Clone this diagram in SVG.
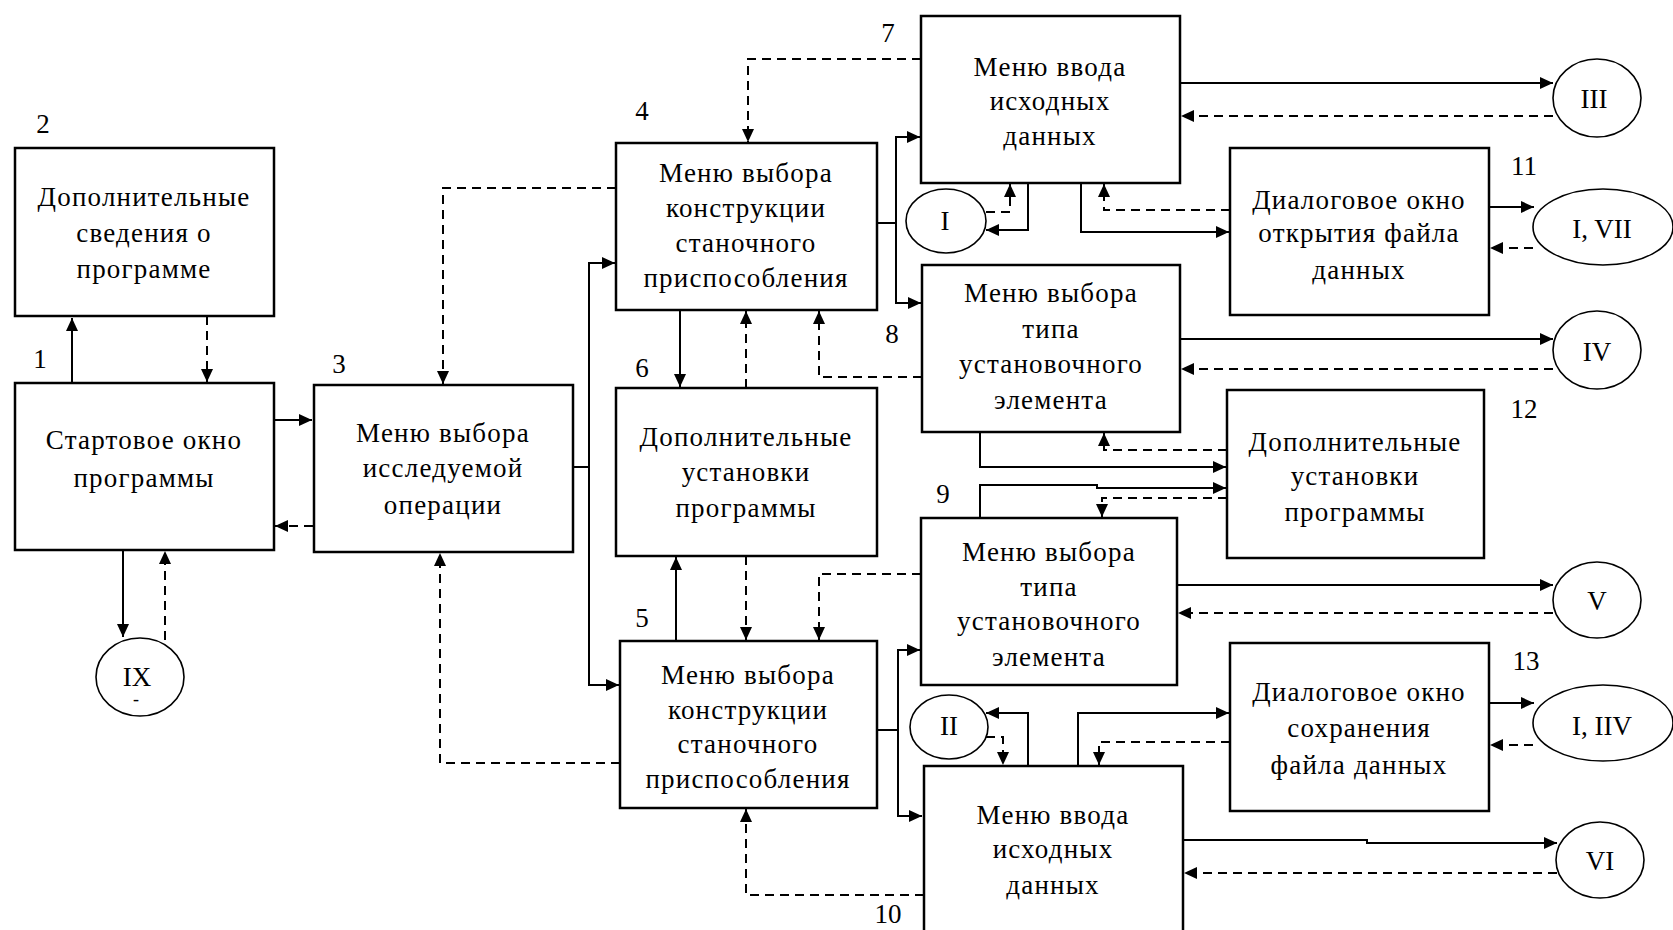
<svg xmlns="http://www.w3.org/2000/svg" width="1673" height="930" viewBox="0 0 1673 930">
<style>
.box{fill:#fff;stroke:#000;stroke-width:2.5}
.c{fill:#fff;stroke:#000;stroke-width:1.6}
.t{font-family:"Liberation Serif","DejaVu Serif",serif;font-size:27px;letter-spacing:1.2px;text-anchor:middle;fill:#000}
.n{font-family:"Liberation Serif","DejaVu Serif",serif;font-size:27px;text-anchor:middle;fill:#000}
.s{fill:none;stroke:#000;stroke-width:2;marker-end:url(#a)}
.d{fill:none;stroke:#000;stroke-width:2;stroke-dasharray:9 6;marker-end:url(#a)}
</style>
<defs>
<marker id="a" markerUnits="userSpaceOnUse" markerWidth="14" markerHeight="12" refX="13" refY="6" orient="auto">
<path d="M0 0 L13 6 L0 12 Z" fill="#000"/>
</marker>
</defs>
<rect width="1673" height="930" fill="#fff"/>

<g id="connectors">
<path class="s" d="M72 383 V318"/>
<path class="s" d="M274 420 H312"/>
<path class="s" d="M123 550 V637"/>
<path class="s" d="M573 467 H589 V263 H615"/>
<path class="s" d="M589 467 V685 H619"/>
<path class="s" d="M680 310 V387"/>
<path class="s" d="M877 223 H896 V137 H920"/>
<path class="s" d="M896 223 V303 H921"/>
<path class="s" d="M1028 183 V230 H986"/>
<path class="s" d="M1081 183 V232 H1229"/>
<path class="s" d="M1180 83 H1553"/>
<path class="s" d="M1489 207 H1534"/>
<path class="s" d="M1180 339 H1553"/>
<path class="s" d="M980 432 V467 H1226"/>
<path class="s" d="M980 518 V485 H1097 V488 H1226"/>
<path class="s" d="M676 641 V557"/>
<path class="s" d="M877 730 H898 V650 H920"/>
<path class="s" d="M898 730 V816 H922"/>
<path class="s" d="M1177 585 H1553"/>
<path class="s" d="M1028 766 V713 H986"/>
<path class="s" d="M1078 766 V713 H1229"/>
<path class="s" d="M1489 703 H1534"/>
<path class="s" d="M1183 840 H1367 V843 H1557"/>

<path class="d" d="M207 316 V382"/>
<path class="d" d="M313 526 H275"/>
<path class="d" d="M165 640 V551"/>
<path class="d" d="M616 188 H443 V384"/>
<path class="d" d="M620 763 H440 V553"/>
<path class="d" d="M921 59 H748 V142"/>
<path class="d" d="M986 212 H1010 V184"/>
<path class="d" d="M1230 210 H1104 V184"/>
<path class="d" d="M1553 116 H1181"/>
<path class="d" d="M1533 248 H1490"/>
<path class="d" d="M746 388 V311"/>
<path class="d" d="M922 377 H819 V311"/>
<path class="d" d="M1553 369 H1181"/>
<path class="d" d="M1227 450 H1104 V433"/>
<path class="d" d="M1227 498 H1102 V517"/>
<path class="d" d="M746 556 V640"/>
<path class="d" d="M921 574 H819 V640"/>
<path class="d" d="M1553 613 H1178"/>
<path class="d" d="M986 737 H1003 V765"/>
<path class="d" d="M1230 742 H1099 V765"/>
<path class="d" d="M1533 745 H1490"/>
<path class="d" d="M1557 873 H1184"/>
<path class="d" d="M924 895 H746 V809"/>
</g>

<g id="n1">
<rect class="box" x="15" y="383" width="259" height="167"/>
<text class="t" x="144" y="449">Стартовое окно</text>
<text class="t" x="144" y="487">программы</text>
<text class="n" x="40" y="368">1</text>
</g>
<g id="n2">
<rect class="box" x="15" y="148" width="259" height="168"/>
<text class="t" x="144" y="206">Дополнительные</text>
<text class="t" x="144" y="242">сведения о</text>
<text class="t" x="144" y="278">программе</text>
<text class="n" x="43" y="133">2</text>
</g>
<g id="n3">
<rect class="box" x="314" y="385" width="259" height="167"/>
<text class="t" x="443" y="442">Меню выбора</text>
<text class="t" x="443" y="477">исследуемой</text>
<text class="t" x="443" y="514">операции</text>
<text class="n" x="339" y="373">3</text>
</g>
<g id="n4">
<rect class="box" x="616" y="143" width="261" height="167"/>
<text class="t" x="746" y="182">Меню выбора</text>
<text class="t" x="746" y="217">конструкции</text>
<text class="t" x="746" y="252">станочного</text>
<text class="t" x="746" y="287">приспособления</text>
<text class="n" x="642" y="120">4</text>
</g>
<g id="n6">
<rect class="box" x="616" y="388" width="261" height="168"/>
<text class="t" x="746" y="446">Дополнительные</text>
<text class="t" x="746" y="481">установки</text>
<text class="t" x="746" y="517">программы</text>
<text class="n" x="642" y="377">6</text>
</g>
<g id="n5">
<rect class="box" x="620" y="641" width="257" height="167"/>
<text class="t" x="748" y="684">Меню выбора</text>
<text class="t" x="748" y="719">конструкции</text>
<text class="t" x="748" y="753">станочного</text>
<text class="t" x="748" y="788">приспособления</text>
<text class="n" x="642" y="627">5</text>
</g>
<g id="n7">
<rect class="box" x="921" y="16" width="259" height="167"/>
<text class="t" x="1050" y="76">Меню ввода</text>
<text class="t" x="1050" y="110">исходных</text>
<text class="t" x="1050" y="145">данных</text>
<text class="n" x="888" y="42">7</text>
</g>
<g id="n8">
<rect class="box" x="922" y="265" width="258" height="167"/>
<text class="t" x="1051" y="302">Меню выбора</text>
<text class="t" x="1051" y="338">типа</text>
<text class="t" x="1051" y="373">установочного</text>
<text class="t" x="1051" y="409">элемента</text>
<text class="n" x="892" y="343">8</text>
</g>
<g id="n9">
<rect class="box" x="921" y="518" width="256" height="167"/>
<text class="t" x="1049" y="561">Меню выбора</text>
<text class="t" x="1049" y="596">типа</text>
<text class="t" x="1049" y="630">установочного</text>
<text class="t" x="1049" y="666">элемента</text>
<text class="n" x="943" y="503">9</text>
</g>
<g id="n10">
<rect class="box" x="924" y="766" width="259" height="175"/>
<text class="t" x="1053" y="824">Меню ввода</text>
<text class="t" x="1053" y="858">исходных</text>
<text class="t" x="1053" y="894">данных</text>
<text class="n" x="888" y="923">10</text>
</g>
<g id="n11">
<rect class="box" x="1230" y="148" width="259" height="167"/>
<text class="t" x="1359" y="209">Диалоговое окно</text>
<text class="t" x="1359" y="242">открытия файла</text>
<text class="t" x="1359" y="279">данных</text>
<text class="n" x="1524" y="175">11</text>
</g>
<g id="n12">
<rect class="box" x="1227" y="390" width="257" height="168"/>
<text class="t" x="1355" y="451">Дополнительные</text>
<text class="t" x="1355" y="485">установки</text>
<text class="t" x="1355" y="521">программы</text>
<text class="n" x="1524" y="418">12</text>
</g>
<g id="n13">
<rect class="box" x="1230" y="643" width="259" height="168"/>
<text class="t" x="1359" y="701">Диалоговое окно</text>
<text class="t" x="1359" y="737">сохранения</text>
<text class="t" x="1359" y="774">файла данных</text>
<text class="n" x="1526" y="670">13</text>
</g>

<g id="cIX">
<ellipse class="c" cx="140" cy="677" rx="44" ry="39"/>
<text class="n" x="137" y="686">IX</text>
<text class="n" x="136" y="705" style="font-size:18px">-</text>
</g>
<g id="cI">
<ellipse class="c" cx="946" cy="221" rx="40" ry="32"/>
<text class="n" x="945" y="230">I</text>
</g>
<g id="cIII">
<ellipse class="c" cx="1597" cy="98" rx="44" ry="39"/>
<text class="n" x="1594" y="108">III</text>
</g>
<g id="cIVII">
<ellipse class="c" cx="1603" cy="227" rx="70" ry="38"/>
<text class="n" x="1602" y="238">I, VII</text>
</g>
<g id="cIV">
<ellipse class="c" cx="1597" cy="350" rx="44" ry="39"/>
<text class="n" x="1597" y="361">IV</text>
</g>
<g id="cV">
<ellipse class="c" cx="1597" cy="600" rx="44" ry="38"/>
<text class="n" x="1597" y="610">V</text>
</g>
<g id="cII">
<ellipse class="c" cx="949" cy="727" rx="39" ry="32"/>
<text class="n" x="949" y="735">II</text>
</g>
<g id="cIIIV">
<ellipse class="c" cx="1603" cy="723" rx="70" ry="38"/>
<text class="n" x="1602" y="735">I, IIV</text>
</g>
<g id="cVI">
<ellipse class="c" cx="1600" cy="860" rx="44" ry="38"/>
<text class="n" x="1600" y="870">VI</text>
</g>
</svg>
